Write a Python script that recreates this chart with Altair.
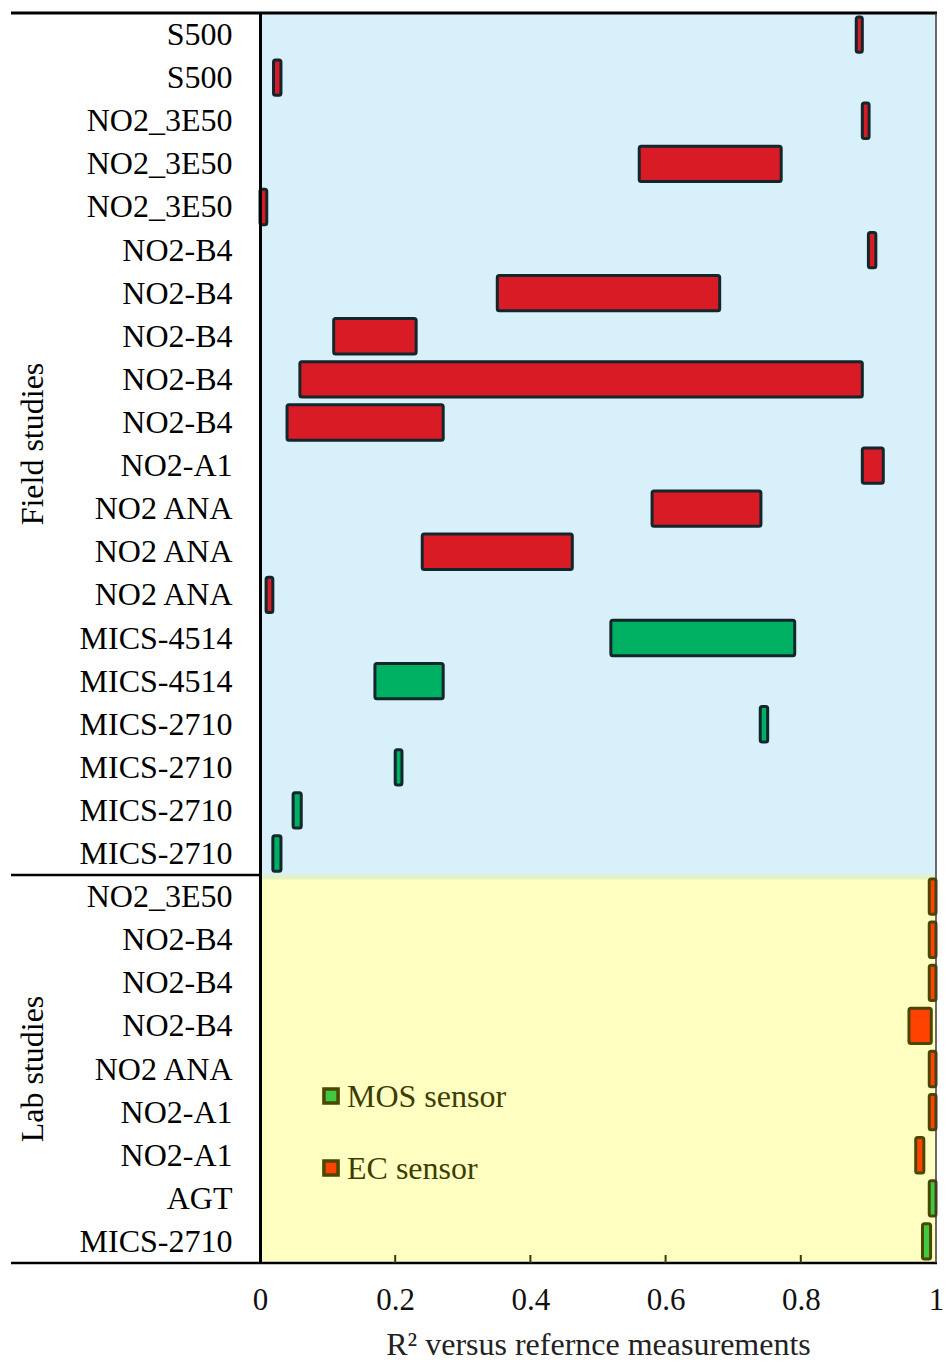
import json
import altair as alt
import pandas as pd

# ---------------- data ----------------
sensors = ["S500", "S500", "NO2_3E50", "NO2_3E50", "NO2_3E50",
           "NO2-B4", "NO2-B4", "NO2-B4", "NO2-B4", "NO2-B4",
           "NO2-A1", "NO2 ANA", "NO2 ANA", "NO2 ANA",
           "MICS-4514", "MICS-4514",
           "MICS-2710", "MICS-2710", "MICS-2710", "MICS-2710",
           "NO2_3E50", "NO2-B4", "NO2-B4", "NO2-B4", "NO2 ANA",
           "NO2-A1", "NO2-A1", "AGT", "MICS-2710"]
r2_low = [0.882, 0.020, 0.891, 0.561, 0.000,
          0.900, 0.351, 0.109, 0.059, 0.040,
          0.891, 0.580, 0.240, 0.009,
          0.519, 0.170,
          0.740, 0.200, 0.049, 0.019,
          0.990, 0.990, 0.990, 0.960, 0.990,
          0.990, 0.970, 0.990, 0.980]
r2_high = [0.891, 0.031, 0.901, 0.771, 0.010,
           0.911, 0.680, 0.231, 0.891, 0.271,
           0.922, 0.741, 0.462, 0.019,
           0.791, 0.271,
           0.751, 0.210, 0.061, 0.031,
           1.000, 1.000, 1.000, 0.993, 1.000,
           1.000, 0.982, 1.000, 0.992]
sensor_type = ["EC"] * 14 + ["MOS"] * 6 + ["EC"] * 7 + ["MOS"] * 2
study = ["Field"] * 20 + ["Lab"] * 9
study_titles = ["Field studies", "Lab studies"]
legend_labels = ["MOS sensor", "EC sensor"]
x_ticks = [0, 0.2, 0.4, 0.6, 0.8, 1]

N = len(sensors)
n_field = study.count("Field")

df = pd.DataFrame({
    "row": list(range(N)),
    "sensor": sensors,
    "lo": r2_low,
    "hi": r2_high,
    "type": sensor_type,
    "study": study,
})
df["y0"] = df["row"] + 0.09
df["y1"] = df["row"] + 0.91
df["group"] = df["study"] + " " + df["type"]

W, H = 676, 1250
FONT = "Liberation Serif"

yscale = alt.Scale(domain=[0, N], reverse=True, nice=False, zero=False)
xscale = alt.Scale(domain=[0, 1], nice=False, zero=False)

label_expr = "%s[floor(datum.value)]" % json.dumps(sensors)

X_AX = alt.Axis(values=x_ticks, format="~g", grid=False, ticks=False, domain=False,
                labelFont=FONT, labelFontSize=31, labelColor="#111", labelFlush=False,
                labelPadding=22, title="R² versus refernce measurements",
                titleFont=FONT, titleFontSize=32, titleFontWeight="normal",
                titleColor="#222", titlePadding=14)
Y_AX = alt.Axis(values=[i + 0.5 for i in range(N)], labelExpr=label_expr,
                grid=False, ticks=False, tickSize=0, domain=True,
                domainColor="black", domainWidth=3, zindex=2,
                labelFont=FONT, labelFontSize=32, labelColor="black",
                labelPadding=28, labelBaseline="middle", title=None)


def X(field):
    return alt.X(field, scale=xscale, axis=X_AX)


def Y(field):
    return alt.Y(field, scale=yscale, axis=Y_AX)


# backgrounds
bg_field = alt.Chart(pd.DataFrame({"lo": [0], "hi": [1], "y0": [0], "y1": [n_field]})).mark_rect(
    color="#d8f0fa").encode(x=X("lo:Q"), x2="hi:Q", y=Y("y0:Q"), y2="y1:Q")
bg_lab = alt.Chart(pd.DataFrame({"lo": [0], "hi": [1], "y0": [n_field], "y1": [N]})).mark_rect(
    color="#ffffc2").encode(x=X("lo:Q"), x2="hi:Q", y=Y("y0:Q"), y2="y1:Q")

seam = alt.Chart(pd.DataFrame({"y0": [n_field]})).mark_rule(
    color="#e2f3c8", strokeWidth=5, yOffset=2).encode(
    y=Y("y0:Q"), x=alt.value(0), x2=alt.value(W))

bars = alt.Chart(df).mark_bar(strokeWidth=3, cornerRadius=2).encode(
    x=X("lo:Q"), x2="hi:Q",
    y=Y("y0:Q"), y2="y1:Q",
    color=alt.Color("group:N", scale=alt.Scale(
        domain=["Field EC", "Field MOS", "Lab EC", "Lab MOS"],
        range=["#d91b26", "#00b062", "#ff4200", "#40c840"]), legend=None),
    stroke=alt.Stroke("study:N", scale=alt.Scale(
        domain=["Field", "Lab"], range=["#12262c", "#4a4800"]), legend=None),
)

# frame lines
frame_top = alt.Chart(pd.DataFrame({"y0": [0]})).mark_rule(color="black", strokeWidth=3).encode(
    y=Y("y0:Q"), x=alt.value(-249), x2=alt.value(W + 1))
frame_sep = alt.Chart(pd.DataFrame({"y0": [n_field]})).mark_rule(color="black", strokeWidth=2.5).encode(
    y=Y("y0:Q"), x=alt.value(-249), x2=alt.value(0))
frame_bot = alt.Chart(pd.DataFrame({"y0": [N]})).mark_rule(color="black", strokeWidth=2.5).encode(
    y=Y("y0:Q"), x=alt.value(-249), x2=alt.value(W + 1))
frame_right = alt.Chart(pd.DataFrame({"lo": [1]})).mark_rule(color="#3a3a3a", strokeWidth=1.5).encode(
    x=X("lo:Q"), y=alt.value(0), y2=alt.value(H))

# inward ticks on the x axis
ticks = alt.Chart(pd.DataFrame({"lo": x_ticks[1:-1]})).mark_rule(color="#3a3a00", strokeWidth=2).encode(
    x=X("lo:Q"), y=alt.value(H - 8), y2=alt.value(H))

# group titles (rotated)
titles_df = pd.DataFrame({"t": study_titles, "y0": [n_field / 2, (n_field + N) / 2]})
group_titles = alt.Chart(titles_df).mark_text(
    angle=270, font=FONT, fontSize=32, color="black", align="center", baseline="middle").encode(
    x=alt.value(-227), y=Y("y0:Q"), text="t:N")

# manual legend
leg_colors = ["#40c840", "#ff4200"]
leg_y = [1083, 1155]
legend_layers = []
for lab, col, yy in zip(legend_labels, leg_colors, leg_y):
    d = pd.DataFrame({"label": [lab]})
    legend_layers.append(alt.Chart(d).mark_square(
        size=200, color=col, stroke="#4a4800", strokeWidth=3.5, opacity=1, filled=True).encode(
        x=alt.value(71), y=alt.value(yy)))
    legend_layers.append(alt.Chart(d).mark_text(
        align="left", baseline="middle", font=FONT, fontSize=32, color="#3d3d00").encode(
        x=alt.value(87), y=alt.value(yy + 1), text="label:N"))

chart = alt.layer(
    bg_field, bg_lab, seam, bars, frame_top, frame_sep, frame_bot, frame_right, ticks,
    group_titles, *legend_layers
).properties(
    width=W, height=H,
    padding={"left": 260, "top": 13, "right": 10, "bottom": 101},
    autosize=alt.AutoSizeParams(type="none"),
    background="white",
).configure_view(stroke=None)

chart.save("out.html", embed_options={"renderer": "svg", "actions": False})
